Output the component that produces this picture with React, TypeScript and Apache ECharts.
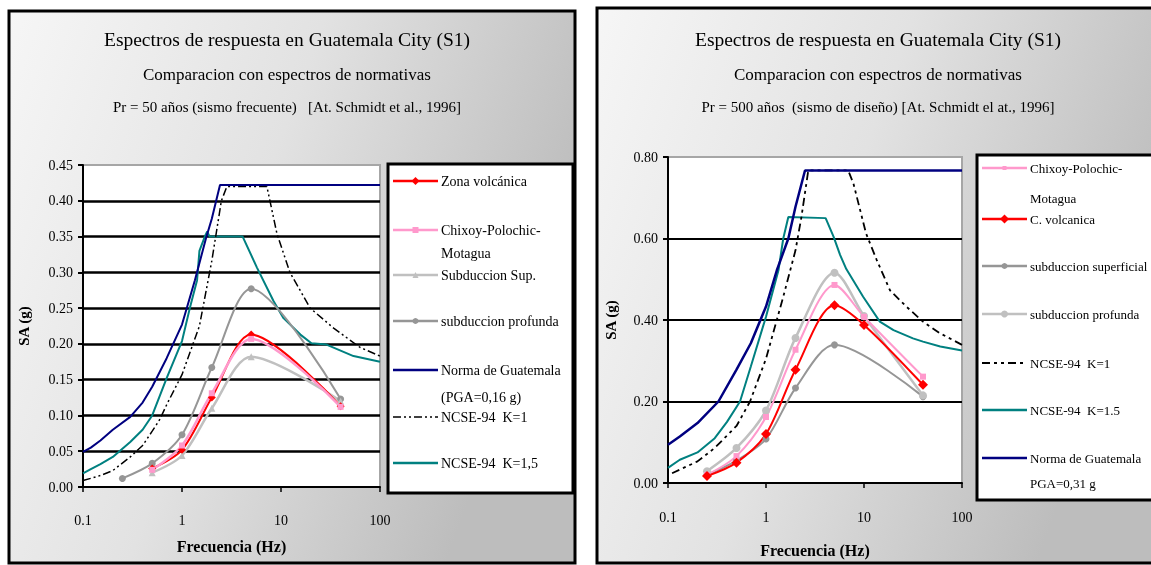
import React, { useEffect, useRef } from "react";
import * as echarts from "echarts";

// ---------- Left panel data (Pr = 50 años) ----------
const L_OBS_F = [0.5, 1, 2, 5, 40];
const L_ZONA = [0.026, 0.052, 0.125, 0.213, 0.113];
const L_CHIXOY = [0.024, 0.058, 0.131, 0.207, 0.112];
const L_SUBSUP = [0.02, 0.044, 0.11, 0.182, 0.12];
const L_PROF_F = [0.25, 0.5, 1, 2, 5, 40];
const L_SUBPROF = [0.012, 0.033, 0.073, 0.167, 0.277, 0.123];

const L_NORMA_F = [0.1, 0.12, 0.15, 0.2, 0.3, 0.4, 0.5, 0.7, 1, 1.35, 1.75, 2, 2.42, 100];
const L_NORMA_V = [0.049, 0.055, 0.065, 0.08, 0.098, 0.118, 0.14, 0.18, 0.227, 0.289, 0.348, 0.375, 0.422, 0.422];

const L_K1_F = [0.1, 0.15, 0.2, 0.3, 0.4, 0.5, 0.6, 0.7, 1, 1.5, 2, 2.5, 2.84, 7.2, 9.1, 12.3, 19.7, 34, 63, 100];
const L_K1_V = [0.009, 0.016, 0.023, 0.042, 0.058, 0.078, 0.095, 0.115, 0.157, 0.225, 0.316, 0.4, 0.42, 0.42, 0.354, 0.3, 0.25, 0.222, 0.195, 0.183];

const L_K15_F = [0.1, 0.12, 0.15, 0.2, 0.3, 0.4, 0.5, 0.7, 1, 1.2, 1.42, 1.5, 1.7, 1.8, 1.9, 4.1, 5.7, 8.4, 10.6, 15.7, 20.3, 28.8, 54, 100];
const L_K15_V = [0.019, 0.025, 0.032, 0.042, 0.063, 0.08, 0.1, 0.152, 0.204, 0.25, 0.289, 0.33, 0.35, 0.357, 0.35, 0.35, 0.307, 0.26, 0.236, 0.213, 0.201, 0.199, 0.183, 0.175];

const L_Y_TICKS = [0, 0.45, 0.05];

// ---------- Right panel data (Pr = 500 años) ----------
const R_OBS_F = [0.25, 0.5, 1, 2, 5, 10, 40];
const R_CHIXOY = [0.02, 0.066, 0.162, 0.327, 0.486, 0.408, 0.261];
const R_VOLC = [0.017, 0.05, 0.12, 0.278, 0.436, 0.388, 0.241];
const R_SUBPROF = [0.029, 0.086, 0.178, 0.356, 0.516, 0.41, 0.215];
const R_SUP_F = [0.25, 0.5, 1, 2, 5, 40];
const R_SUBSUP = [0.02, 0.055, 0.108, 0.233, 0.339, 0.212];

const R_NORMA_F = [0.1, 0.132, 0.2, 0.327, 0.5, 0.7, 1, 1.29, 1.69, 2, 2.5, 100];
const R_NORMA_V = [0.094, 0.114, 0.147, 0.2, 0.278, 0.343, 0.433, 0.522, 0.6, 0.678, 0.767, 0.767];

const R_K1_F = [0.11, 0.2, 0.3, 0.5, 0.687, 1, 1.5, 2, 2.3, 2.7, 6.9, 7.8, 10.5, 13.5, 18.4, 27, 40, 59, 100];
const R_K1_V = [0.024, 0.053, 0.086, 0.14, 0.2, 0.305, 0.457, 0.571, 0.653, 0.767, 0.767, 0.735, 0.612, 0.547, 0.473, 0.433, 0.396, 0.368, 0.339];

const R_K15_F = [0.1, 0.132, 0.2, 0.3, 0.4, 0.543, 0.7, 1, 1.34, 1.5, 1.69, 4.06, 4.9, 5.7, 6.6, 9.8, 14.5, 20, 31.6, 40, 60, 100];
const R_K15_V = [0.037, 0.057, 0.075, 0.11, 0.15, 0.2, 0.286, 0.408, 0.522, 0.6, 0.653, 0.65, 0.604, 0.56, 0.525, 0.457, 0.396, 0.375, 0.355, 0.347, 0.335, 0.325];

const R_Y_TICKS = [0, 0.8, 0.2];

// ---------- Texts ----------
const TITLE = "Espectros de respuesta en Guatemala City (S1)";
const SUBTITLE = "Comparacion con espectros de normativas";
const L_LINE3 = "Pr = 50 años (sismo frecuente)   [At. Schmidt et al., 1996]";
const R_LINE3 = "Pr = 500 años  (sismo de diseño) [At. Schmidt el at., 1996]";
const X_NAME = "Frecuencia (Hz)";
const Y_NAME = "SA (g)";

const L_NAMES = ["Zona volcánica", "Chixoy-Polochic-\nMotagua", "Subduccion Sup.", "subduccion profunda", "Norma de Guatemala\n(PGA=0,16 g)", "NCSE-94  K=1", "NCSE-94  K=1,5"];
const R_NAMES = ["Chixoy-Polochic-\nMotagua", "C. volcanica", "subduccion superficial", "subduccion profunda", "NCSE-94  K=1", "NCSE-94  K=1.5", "Norma de Guatemala\nPGA=0,31 g"];

const SERIF = '"Liberation Serif", "DejaVu Serif", serif';
const RED = "#ff0000";
const PINK = "#ff99cc";
const LGRAY = "#c0c0c0";
const DGRAY = "#969696";
const NAVY = "#000080";
const TEAL = "#008080";
const DASH = [8, 3, 2, 3, 2, 3];
const DASH_R = [8, 4, 3, 4, 3, 4];

const zip = (f: number[], v: number[]) => f.map((x, i) => [x, v[i]]);

function lineSeries(name: string, idx: number, data: number[][], color: string, width: number, opts: any = {}) {
  return {
    type: "line",
    name,
    xAxisIndex: idx,
    yAxisIndex: idx,
    data,
    smooth: opts.smooth ?? false,
    symbol: opts.symbol ?? "none",
    symbolSize: opts.size ?? 6,
    showSymbol: !!opts.symbol,
    itemStyle: { color, borderWidth: 0 },
    lineStyle: { color, width, type: opts.dash ?? "solid" },
    z: opts.z ?? 2,
  };
}

function markerShape(kind: string, cx: number, cy: number, s: number, color: string) {
  if (kind === "circle") return { type: "circle", shape: { cx, cy, r: s / 2 }, style: { fill: color }, z: 101 };
  if (kind === "rect") return { type: "rect", shape: { x: cx - s / 2, y: cy - s / 2, width: s, height: s }, style: { fill: color }, z: 101 };
  if (kind === "triangle")
    return { type: "polygon", shape: { points: [[cx, cy - s / 2], [cx + s / 2, cy + s / 2], [cx - s / 2, cy + s / 2]] }, style: { fill: color }, z: 101 };
  return { type: "polygon", shape: { points: [[cx, cy - s / 2], [cx + s / 2, cy], [cx, cy + s / 2], [cx - s / 2, cy]] }, style: { fill: color }, z: 101 };
}

function legendEls(x0: number, x1: number, tx: number, fontSize: number, items: any[]) {
  const els: any[] = [];
  items.forEach((it) => {
    els.push({
      type: "line",
      shape: { x1: x0, y1: it.y, x2: x1, y2: it.y },
      style: { stroke: it.color, lineWidth: it.width, lineDash: it.dash || null },
      z: 100,
    });
    if (it.marker) els.push(markerShape(it.marker, (x0 + x1) / 2, it.y, it.size, it.color));
    const lines = it.name.split("\n");
    lines.forEach((ln: string, k: number) => {
      els.push({
        type: "text",
        x: tx,
        y: it.y + k * it.lh,
        style: { text: ln, fill: "#000", font: `${fontSize}px ${SERIF}`, textVerticalAlign: "middle", textAlign: "left" },
        z: 100,
      });
    });
  });
  return els;
}

function titleEls(cx: number, l3: string) {
  return [
    { type: "text", x: cx, y: 39, style: { text: TITLE, fill: "#000", font: `19.5px ${SERIF}`, textAlign: "center", textVerticalAlign: "middle" }, z: 100 },
    { type: "text", x: cx, y: 74, style: { text: SUBTITLE, fill: "#000", font: `17px ${SERIF}`, textAlign: "center", textVerticalAlign: "middle" }, z: 100 },
    { type: "text", x: cx, y: 107, style: { text: l3, fill: "#000", font: `15px ${SERIF}`, textAlign: "center", textVerticalAlign: "middle" }, z: 100 },
  ];
}

function xAxisCfg(gridIndex: number, nameGap: number, margin: number) {
  return {
    type: "log",
    logBase: 10,
    gridIndex,
    min: 0.1,
    max: 100,
    name: X_NAME,
    nameLocation: "middle",
    nameGap,
    nameTextStyle: { fontFamily: SERIF, fontSize: 16, fontWeight: "bold", color: "#000" },
    axisLine: { lineStyle: { color: "#000", width: 2 } },
    axisTick: { show: true, length: 5, lineStyle: { color: "#000", width: 1.5 } },
    axisLabel: {
      margin,
      fontFamily: SERIF,
      fontSize: 14,
      color: "#000",
      formatter: (v: number) => (v < 0.5 ? "0.1" : String(Math.round(v))),
    },
    splitLine: { show: false },
    minorTick: { show: false },
  };
}

function yAxisCfg(gridIndex: number, ticks: number[], nameGap: number, width: number) {
  return {
    type: "value",
    gridIndex,
    min: ticks[0],
    max: ticks[1],
    interval: ticks[2],
    name: Y_NAME,
    nameLocation: "middle",
    nameGap,
    nameTextStyle: { fontFamily: SERIF, fontSize: 15, fontWeight: "bold", color: "#000" },
    axisLine: { show: true, lineStyle: { color: "#000", width: 2 } },
    axisTick: { show: true, length: 5, lineStyle: { color: "#000", width: 2 } },
    axisLabel: { margin: 10, fontFamily: SERIF, fontSize: 14, color: "#000", formatter: (v: number) => v.toFixed(2) },
    splitLine: { show: true, showMinLine: false, showMaxLine: false, lineStyle: { color: "#000", width } },
  };
}

export default function App() {
  const ref = useRef<HTMLDivElement>(null);
  useEffect(() => {
    document.body.style.margin = "0";
    const chart = echarts.init(ref.current!, null, { renderer: "svg" });

    const bgGrad = () =>
      new echarts.graphic.LinearGradient(0, 0, 1, 0.35, [
        { offset: 0, color: "#f6f6f6" },
        { offset: 0.5, color: "#e2e2e2" },
        { offset: 1, color: "#bdbdbd" },
      ]);

    const graphic: any[] = [
      { type: "rect", shape: { x: 0, y: 0, width: 1151, height: 565 }, style: { fill: "#ffffff" }, z: -20 },
      { type: "rect", shape: { x: 9, y: 11, width: 566, height: 552 }, style: { fill: bgGrad(), stroke: "#000", lineWidth: 3 }, z: -10 },
      { type: "rect", shape: { x: 597, y: 8, width: 570, height: 555 }, style: { fill: bgGrad(), stroke: "#000", lineWidth: 3 }, z: -10 },
      // legend boxes
      { type: "rect", shape: { x: 388, y: 164, width: 185, height: 329 }, style: { fill: "#fff", stroke: "#000", lineWidth: 3 }, z: 99 },
      { type: "rect", shape: { x: 977, y: 155, width: 200, height: 345 }, style: { fill: "#fff", stroke: "#000", lineWidth: 3 }, z: 99 },
      ...titleEls(287, L_LINE3),
      ...titleEls(878, R_LINE3),
      ...legendEls(393, 438, 441, 14, [
        { name: L_NAMES[0], y: 181, color: RED, width: 2.5, marker: "diamond", size: 8, lh: 23 },
        { name: L_NAMES[1], y: 230, color: PINK, width: 2.5, marker: "rect", size: 6, lh: 23 },
        { name: L_NAMES[2], y: 275, color: LGRAY, width: 2.5, marker: "triangle", size: 6, lh: 23 },
        { name: L_NAMES[3], y: 321, color: DGRAY, width: 2.5, marker: "circle", size: 6, lh: 23 },
        { name: L_NAMES[4], y: 370, color: NAVY, width: 2.5, lh: 27 },
        { name: L_NAMES[5], y: 417, color: "#000", width: 1.5, dash: DASH, lh: 23 },
        { name: L_NAMES[6], y: 463, color: TEAL, width: 2.5, lh: 23 },
      ]),
      ...legendEls(982, 1027, 1030, 13, [
        { name: R_NAMES[0], y: 168, color: PINK, width: 2.5, marker: "rect", size: 4, lh: 30 },
        { name: R_NAMES[1], y: 219, color: RED, width: 2.5, marker: "diamond", size: 9, lh: 23 },
        { name: R_NAMES[2], y: 266, color: DGRAY, width: 2.5, marker: "circle", size: 6, lh: 23 },
        { name: R_NAMES[3], y: 314, color: LGRAY, width: 2.5, marker: "circle", size: 7, lh: 23 },
        { name: R_NAMES[4], y: 363, color: "#000", width: 2, dash: DASH_R, lh: 23 },
        { name: R_NAMES[5], y: 410, color: TEAL, width: 2.5, lh: 23 },
        { name: R_NAMES[6], y: 458, color: NAVY, width: 2.5, lh: 25 },
      ]),
    ];

    const option: any = {
      animation: false,
      graphic,
      grid: [
        { left: 83, top: 165, width: 297, height: 322, show: true, backgroundColor: "#fff", borderColor: "#a6a6a6", borderWidth: 2 },
        { left: 668, top: 157, width: 294, height: 326, show: true, backgroundColor: "#fff", borderColor: "#a6a6a6", borderWidth: 2 },
      ],
      xAxis: [xAxisCfg(0, 51, 26), xAxisCfg(1, 59, 27)],
      yAxis: [yAxisCfg(0, L_Y_TICKS, 52, 2.5), yAxisCfg(1, R_Y_TICKS, 50, 2)],
      series: [
        lineSeries(L_NAMES[6], 0, zip(L_K15_F, L_K15_V), TEAL, 2),
        lineSeries(L_NAMES[5], 0, zip(L_K1_F, L_K1_V), "#000", 1.5, { dash: DASH }),
        lineSeries(L_NAMES[4], 0, zip(L_NORMA_F, L_NORMA_V), NAVY, 2),
        lineSeries(L_NAMES[3], 0, zip(L_PROF_F, L_SUBPROF), DGRAY, 2, { smooth: 0.3, symbol: "circle", size: 7 }),
        lineSeries(L_NAMES[2], 0, zip(L_OBS_F, L_SUBSUP), LGRAY, 2.5, { smooth: 0.3, symbol: "triangle", size: 7 }),
        lineSeries(L_NAMES[0], 0, zip(L_OBS_F, L_ZONA), RED, 2, { smooth: 0.3, symbol: "diamond", size: 8 }),
        lineSeries(L_NAMES[1], 0, zip(L_OBS_F, L_CHIXOY), PINK, 2.5, { smooth: 0.3, symbol: "rect", size: 6 }),

        lineSeries(R_NAMES[5], 1, zip(R_K15_F, R_K15_V), TEAL, 2),
        lineSeries(R_NAMES[4], 1, zip(R_K1_F, R_K1_V), "#000", 1.8, { dash: DASH_R }),
        lineSeries(R_NAMES[6], 1, zip(R_NORMA_F, R_NORMA_V), NAVY, 2.5, { z: 3 }),
        lineSeries(R_NAMES[2], 1, zip(R_SUP_F, R_SUBSUP), DGRAY, 2, { smooth: 0.3, symbol: "circle", size: 7 }),
        lineSeries(R_NAMES[3], 1, zip(R_OBS_F, R_SUBPROF), LGRAY, 2.5, { smooth: 0.3, symbol: "circle", size: 8 }),
        lineSeries(R_NAMES[0], 1, zip(R_OBS_F, R_CHIXOY), PINK, 2, { smooth: 0.3, symbol: "rect", size: 6 }),
        lineSeries(R_NAMES[1], 1, zip(R_OBS_F, R_VOLC), RED, 2, { smooth: 0.3, symbol: "diamond", size: 10 }),
      ],
    };
    chart.setOption(option);
    return () => chart.dispose();
  }, []);
  return <div ref={ref} style={{ position: "fixed", left: 0, top: 0, width: 1151, height: 565 }} />;
}
